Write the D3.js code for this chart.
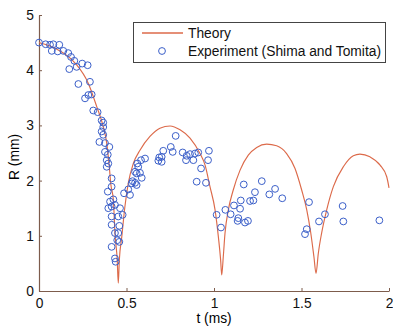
<!DOCTYPE html>
<html>
<head>
<meta charset="utf-8">
<script src="https://cdn.jsdelivr.net/npm/d3@7"></script>
<style>
  body { margin: 0; background: #fff; }
  text { font-family: "Liberation Sans", Arial, sans-serif; }
</style>
</head>
<body>
<div id="chart"></div>
<script>
// theory curve (t in ms, R in mm)
const theoryT = [0, 0.091, 0.206, 0.282, 0.330, 0.367, 0.387, 0.400, 0.411, 0.425, 0.434, 0.447, 0.453,
  0.459, 0.473, 0.491, 0.510, 0.539, 0.577, 0.634, 0.691, 0.749, 0.806, 0.863, 0.920, 0.949, 0.977, 1.006, 1.025, 1.038, 1.044,
  1.053, 1.063, 1.082, 1.110, 1.149, 1.196, 1.244, 1.301, 1.358, 1.415, 1.463, 1.501, 1.530, 1.553, 1.571, 1.583,
  1.596, 1.615, 1.644, 1.682, 1.739, 1.796, 1.834, 1.891, 1.949, 1.987, 2.0];
const theoryR = [4.50, 4.40, 4.13, 3.76, 3.34, 2.98, 2.68, 2.31, 1.92, 1.65, 1.05, 0.56, 0.14,
  0.56, 0.98, 1.53, 1.95, 2.31, 2.55, 2.80, 2.95, 2.99, 2.92, 2.77, 2.49, 2.28, 1.89, 1.47, 0.98, 0.56, 0.29,
  0.62, 1.05, 1.47, 1.83, 2.19, 2.46, 2.60, 2.66, 2.63, 2.49, 2.22, 1.83, 1.47, 1.05, 0.62, 0.32,
  0.68, 1.05, 1.47, 1.89, 2.25, 2.45, 2.48, 2.43, 2.28, 2.07, 1.87];

// experiment (Shima and Tomita)
const expT = [0, 0.038, 0.063, 0.082, 0.116, 0.073, 0.107, 0.139, 0.167, 0.183, 0.202, 0.247, 0.278, 0.215, 0.173,
  0.291, 0.225, 0.263, 0.282, 0.301, 0.310, 0.335, 0.358, 0.367, 0.367, 0.358, 0.367, 0.345, 0.377, 0.402,
  0.377, 0.393, 0.387, 0.396, 0.387, 0.415, 0.415, 0.393, 0.425, 0.406, 0.434, 0.415, 0.396, 0.415, 0.415,
  0.434, 0.415, 0.434, 0.438, 0.447, 0.459,
  0.463, 0.453, 0.478, 0.459, 0.453, 0.486, 0.510, 0.520, 0.530, 0.549, 0.558, 0.577, 0.562, 0.583, 0.606,
  0.567, 0.549, 0.587, 0.535, 0.558,
  0.687, 0.701, 0.682, 0.701, 0.710, 0.753, 0.764, 0.781, 0.821, 0.844, 0.863, 0.891, 0.910, 0.840, 0.882,
  0.971, 0.966, 0.926, 0.901, 0.954,
  1.015, 1.040, 1.065, 1.095, 1.114, 1.149, 1.153, 1.139, 1.135, 1.177, 1.194, 1.170, 1.206, 1.225, 1.234,
  1.273, 1.316, 1.349, 1.390,
  1.543, 1.530, 1.520, 1.600, 1.634, 1.735, 1.739, 1.945];
const expR = [4.50, 4.47, 4.46, 4.47, 4.46, 4.35, 4.34, 4.35, 4.31, 4.24, 4.17, 4.12, 4.09, 4.06, 4.02,
  3.79, 3.75, 3.49, 3.55, 3.56, 3.27, 3.24, 3.09, 3.05, 2.97, 2.89, 2.83, 2.70, 2.68, 2.61,
  2.52, 2.47, 2.37, 2.31, 2.25, 2.04, 1.89, 1.80, 1.66, 1.62, 1.56, 1.53, 1.50, 1.35, 1.20,
  1.05, 0.80, 0.59, 0.53, 0.92, 0.89,
  1.50, 1.35, 1.38, 1.18, 1.05, 1.77, 1.84, 1.74, 1.95, 1.96, 2.13, 2.14, 2.31, 2.37, 2.40,
  2.25, 2.16, 2.05, 1.99, 1.92,
  2.42, 2.34, 2.36, 2.43, 2.54, 2.61, 2.52, 2.81, 2.51, 2.45, 2.48, 2.49, 2.51, 2.37, 2.37,
  2.54, 2.37, 2.22, 1.98, 1.96,
  1.38, 1.15, 1.47, 1.39, 1.55, 1.49, 1.64, 1.32, 1.27, 1.24, 1.27, 1.93, 1.63, 1.64, 1.79,
  1.99, 1.75, 1.85, 1.68,
  1.61, 1.12, 1.03, 1.26, 1.39, 1.54, 1.26, 1.28];

const xTicks = [0, 0.5, 1, 1.5, 2];
const yTicks = [0, 1, 2, 3, 4, 5];
const legendLabels = ["Theory", "Experiment (Shima and Tomita)"];

const width = 393, height = 329;
const margin = { top: 15, right: 4, bottom: 38, left: 39 };
const axisColor = "#7d5c4c";
const lineColor = "#dc6a4a";
const dotColor = "#3b5fc9";
const fontSize = "13.8px";

const svg = d3.select("#chart").append("svg")
  .attr("width", width)
  .attr("height", height);

const x = d3.scaleLinear().domain([0, 2]).range([margin.left, width - margin.right]);
const y = d3.scaleLinear().domain([0, 5]).range([height - margin.bottom, margin.top]);

// axes, ticks pointing inward like matlab
const xAxis = svg.append("g")
  .attr("transform", `translate(0,${y(0)})`)
  .call(d3.axisBottom(x).tickValues(xTicks).tickFormat(d3.format("")).tickSizeInner(-3).tickSizeOuter(0).tickPadding(7));
const yAxis = svg.append("g")
  .attr("transform", `translate(${x(0)},0)`)
  .call(d3.axisLeft(y).tickValues(yTicks).tickFormat(d3.format("")).tickSizeInner(-3).tickSizeOuter(0).tickPadding(5));

[xAxis, yAxis].forEach(g => {
  g.select(".domain").attr("stroke", axisColor).attr("stroke-width", 1.2);
  g.selectAll(".tick line").attr("stroke", axisColor);
  g.selectAll(".tick text").attr("fill", "#111").style("font-size", fontSize)
    .style("font-family", "'Liberation Sans', Arial, sans-serif");
});

// theory line
const theory = theoryT.map((t, i) => [t, theoryR[i]]);
svg.append("path")
  .datum(theory)
  .attr("fill", "none")
  .attr("stroke", lineColor)
  .attr("stroke-width", 1.15)
  .attr("d", d3.line().x(d => x(d[0])).y(d => y(d[1])).curve(d3.curveMonotoneX));

// experiment points
const exp = expT.map((t, i) => ({ t: t, r: expR[i] }));
svg.append("g")
  .selectAll("circle")
  .data(exp)
  .enter()
  .append("circle")
  .attr("cx", d => x(d.t))
  .attr("cy", d => y(d.r))
  .attr("r", 3.4)
  .attr("fill", "none")
  .attr("stroke", dotColor)
  .attr("stroke-width", 1);

// axis labels
svg.append("text")
  .attr("x", x(1))
  .attr("y", 323)
  .attr("text-anchor", "middle")
  .style("font-size", fontSize)
  .text("t (ms)");
svg.append("text")
  .attr("transform", `translate(19,${y(2.5) + 4}) rotate(-90)`)
  .attr("text-anchor", "middle")
  .style("font-size", fontSize)
  .text("R (mm)");

// legend
const legend = svg.append("g");
legend.append("rect")
  .attr("x", 133.5).attr("y", 22.5)
  .attr("width", 252).attr("height", 40)
  .attr("fill", "#fff")
  .attr("stroke", "#444")
  .attr("stroke-width", 1);
legend.append("line")
  .attr("x1", 142).attr("x2", 183)
  .attr("y1", 33).attr("y2", 33)
  .attr("stroke", lineColor)
  .attr("stroke-width", 1.3);
legend.append("circle")
  .attr("cx", 162).attr("cy", 51)
  .attr("r", 3.4)
  .attr("fill", "none")
  .attr("stroke", dotColor);
legend.selectAll("text.lab")
  .data(legendLabels)
  .enter()
  .append("text")
  .attr("class", "lab")
  .attr("x", 188)
  .attr("y", (d, i) => 38 + i * 18)
  .style("font-size", fontSize)
  .attr("fill", "#111")
  .text(d => d);
</script>
</body>
</html>
